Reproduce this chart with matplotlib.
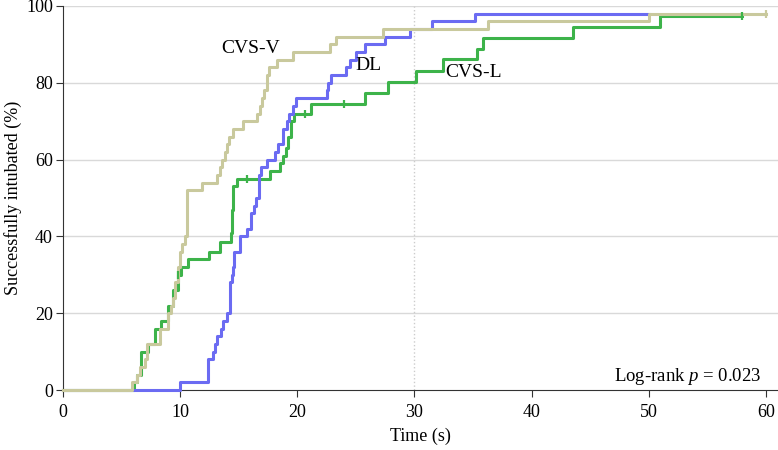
import numpy as np
import matplotlib
matplotlib.use("Agg")
import matplotlib.pyplot as plt

plt.rcParams['font.family'] = ['Liberation Serif', 'DejaVu Serif']
plt.rcParams['mathtext.fontset'] = 'custom'
plt.rcParams['mathtext.rm'] = 'Liberation Serif'
plt.rcParams['mathtext.it'] = 'Liberation Serif:italic'

# Kaplan-Meier style step data (time in s, % intubated)
cvsv_t = [0, 5.95, 6.3, 6.6, 7.0, 7.2, 8.3, 9.0, 9.2, 9.4, 9.6, 9.8, 10.0, 10.2, 10.4, 10.6,
          11.9, 13.2, 13.4, 13.6, 13.8, 14.0, 14.2, 14.5, 15.4, 16.6, 16.8, 17.0, 17.2, 17.4,
          17.6, 18.3, 19.6, 22.8, 23.3, 27.3, 36.3, 50.0, 60.0]
cvsv_y = [0, 2, 4, 6, 8, 12, 16, 20, 22, 24, 28, 32, 36, 38, 40, 52,
          54, 56, 58, 60, 62, 64, 66, 68, 70, 72, 74, 76, 78, 82,
          84, 86, 88, 90, 92, 94, 96, 98, 98]

dl_t = [0, 10.0, 12.4, 12.8, 13.0, 13.2, 13.5, 13.7, 14.0, 14.25, 14.4, 14.5, 14.6, 15.1, 15.7,
        16.1, 16.3, 16.5, 16.7, 16.9, 17.4, 18.1, 18.4, 18.8, 19.1, 19.3, 19.6, 19.9, 22.5,
        22.6, 22.9, 24.2, 24.5, 25.0, 25.8, 27.5, 29.6, 31.5, 35.2, 50.0]
dl_y = [0, 2, 8, 10, 12, 14, 16, 18, 20, 28, 30, 32, 36, 40, 42,
        46, 48, 50, 56, 58, 60, 62, 64, 68, 70, 72, 74, 76, 78,
        80, 82, 84, 86, 88, 90, 92, 94, 96, 98, 98]

cvsl_t = [0, 6.1, 6.3, 6.7, 7.3, 7.85, 8.4, 9.0, 9.4, 9.8, 10.1, 10.7, 12.5, 13.4, 14.35, 14.4,
          14.45, 14.5, 14.55, 14.9, 17.7, 18.5, 18.8, 19.0, 19.2, 19.5, 19.7, 21.2, 25.8, 27.7,
          30.1, 32.4, 35.3, 35.8, 43.5, 50.9, 57.9]
cvsl_y = [0, 2, 4, 10, 12, 16, 18, 22, 26, 30, 32, 34, 36, 38.5, 41, 44,
          47, 50, 53, 55, 57, 59, 61, 63, 66, 70, 72, 74.5, 77.4, 80.3,
          83.2, 86.1, 88.8, 91.6, 94.5, 97.4, 97.4]

# censored observations
cvsv_cens_t = [60.0]
cvsv_cens_y = [98]
cvsl_cens_t = [9.8, 15.7, 20.7, 24.0, 57.9]
cvsl_cens_y = [30, 55, 72, 74.5, 97.4]

c_v = '#c9c99d'
c_dl = '#6b6bf2'
c_l = '#3db34a'

fig = plt.figure(figsize=(7.78, 4.5), dpi=100)
ax = fig.add_axes([0.0806, 0.1333, 0.9194, 0.8534])

for t, y, c in [(cvsl_t, cvsl_y, c_l), (dl_t, dl_y, c_dl), (cvsv_t, cvsv_y, c_v)]:
    ax.step(t, y, where='post', color=c, lw=2.2, clip_on=False, zorder=3)
ax.plot(cvsv_cens_t, cvsv_cens_y, ls='none', marker='|', ms=6, mew=1.6, color=c_v, zorder=4)
ax.plot(cvsl_cens_t, cvsl_cens_y, ls='none', marker='|', ms=6, mew=1.6, color=c_l, zorder=4)

ax.set_xlim(0, 61.0)
ax.set_ylim(0, 100)
ax.set_xticks(np.arange(0, 61, 10))
ax.set_yticks(np.arange(0, 101, 20))
for yv in range(20, 101, 20):
    ax.axhline(yv, color='#d9d9d9', lw=1, zorder=1)
ax.axvline(30, color='#cccccc', lw=1, ls=':', zorder=1)

for s in ['top', 'right']:
    ax.spines[s].set_visible(False)
for s in ['left', 'bottom']:
    ax.spines[s].set_color('#333333')
ax.tick_params(labelsize=13, length=5, color='#333333', direction='out', pad=2)
ax.tick_params(axis='x', pad=5)

ax.set_xlabel("Time (s)", fontsize=13, labelpad=5)
ax.set_ylabel("Successfully intubated (%)", fontsize=13, labelpad=3)

ax.text(16.0, 89, "CVS-V", fontsize=14, ha='center', va='center')
ax.text(26.1, 84.6, "DL", fontsize=14, ha='center', va='center')
ax.text(35.0, 82.8, "CVS-L", fontsize=14, ha='center', va='center')
ax.text(59.6, 3.5, "Log-rank $p$ = 0.023", fontsize=13.5, ha='right', va='center')

plt.savefig("out.png", dpi=100)
